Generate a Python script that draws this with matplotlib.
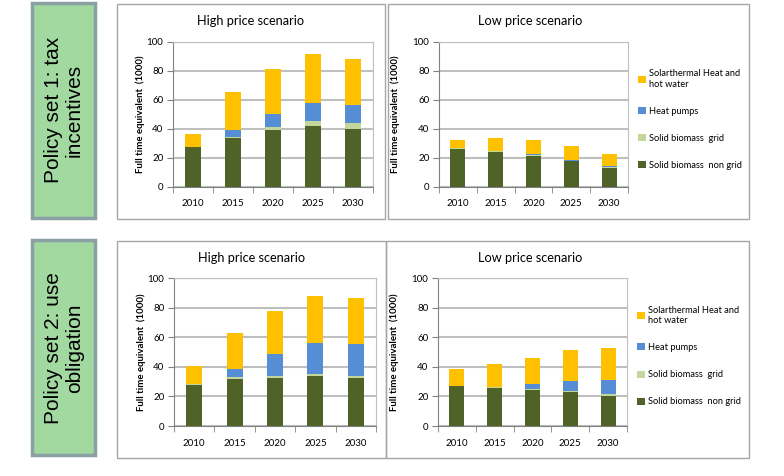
import numpy as np
import matplotlib
matplotlib.use("Agg")
import matplotlib.pyplot as plt
from matplotlib.patches import Rectangle

# data (full time equivalent, thousands)
years = ["2010", "2015", "2020", "2025", "2030"]

p1_high_nongrid = [27.5, 33.5, 39.3, 42.0, 40.3]
p1_high_grid = [0.3, 1.3, 1.8, 3.4, 4.0]
p1_high_hp = [0.0, 4.5, 9.5, 12.5, 12.5]
p1_high_solar = [8.6, 26.5, 30.5, 33.5, 31.8]

p1_low_nongrid = [26.2, 24.2, 21.7, 17.7, 13.4]
p1_low_grid = [0.5, 0.5, 0.6, 0.5, 0.6]
p1_low_hp = [0.0, 0.2, 0.2, 0.2, 0.2]
p1_low_solar = [6.0, 9.1, 9.8, 10.0, 8.7]

p2_high_nongrid = [27.8, 32.0, 32.6, 33.8, 32.6]
p2_high_grid = [0.4, 0.8, 1.2, 1.2, 1.0]
p2_high_hp = [0.0, 5.9, 15.0, 21.2, 21.5]
p2_high_solar = [12.3, 24.0, 28.8, 31.8, 31.5]

p2_low_nongrid = [26.8, 25.6, 24.3, 22.8, 20.6]
p2_low_grid = [0.5, 0.6, 0.6, 0.7, 0.7]
p2_low_hp = [0.0, 0.3, 3.4, 6.8, 9.8]
p2_low_solar = [11.4, 15.1, 17.9, 20.8, 21.8]

series_names = ["Solid biomass  non grid", "Solid biomass  grid", "Heat pumps",
                "Solarthermal Heat and\nhot water"]
colors = ["#4F6228", "#C3D69B", "#558ED5", "#FFC000"]

W, H = 784, 476
fig = plt.figure(figsize=(W / 100, H / 100), dpi=100)
font = "Lato"


def px_rect(x0, y0, x1, y1, **kw):
    # rectangle given in pixel coords of the picture (y down)
    r = Rectangle((x0 / W, 1 - y1 / H), (x1 - x0) / W, (y1 - y0) / H,
                  transform=fig.transFigure, **kw)
    fig.add_artist(r)


def panel(box, stacks, show_legend, lpad):
    x0, y0, x1, y1 = box
    ax = fig.add_axes([x0 / W, 1 - y1 / H, (x1 - x0) / W, (y1 - y0) / H])
    x = np.arange(len(years))
    bottom = np.zeros(len(years))
    handles = []
    for vals, c, name in zip(stacks, colors, series_names):
        b = ax.bar(x, vals, 0.4, bottom=bottom, color=c, label=name,
                   edgecolor="none", zorder=3)
        bottom += np.array(vals)
        handles.append(b)
    ax.set_xlim(-0.5, 4.5)
    ax.set_ylim(0, 100)
    ax.set_yticks([0, 20, 40, 60, 80, 100])
    ax.yaxis.grid(True, color="#BFBFBF", linewidth=1.5, zorder=0)
    ax.set_xticks(x)
    ax.set_xticklabels(years)
    ax.set_xticks(np.arange(-0.5, 5, 1), minor=True)
    ax.tick_params(axis="x", which="major", length=0, pad=9)
    ax.tick_params(axis="x", which="minor", length=4, color="#808080")
    ax.tick_params(axis="y", length=4, color="#808080", pad=3)
    for lab in ax.get_xticklabels() + ax.get_yticklabels():
        lab.set_fontfamily(font)
        lab.set_fontsize(7)
    ax.spines["left"].set_color("#808080")
    ax.spines["bottom"].set_color("#808080")
    ax.spines["top"].set_color("#BFBFBF")
    ax.spines["right"].set_color("#BFBFBF")
    ax.set_ylabel("Full time equivalent  (1000)", fontsize=6.9, fontweight="bold",
                  family=font, labelpad=lpad)
    if show_legend:
        ax.legend(handles[::-1], [h.get_label() for h in handles[::-1]],
                  loc="upper left", bbox_to_anchor=(1.01, 0.87), frameon=False,
                  prop={"family": font, "size": 6.7}, handlelength=0.8,
                  handleheight=0.8, handletextpad=0.4, labelspacing=1.95)
    return ax


# panel frames
px_rect(117, 4, 385, 219, fill=False, ec="#A6A6A6", lw=1)
px_rect(388, 4, 749, 219, fill=False, ec="#A6A6A6", lw=1)
px_rect(117, 241, 386, 458, fill=False, ec="#A6A6A6", lw=1)
px_rect(386, 241, 749, 458, fill=False, ec="#A6A6A6", lw=1)

# green policy boxes
px_rect(32, 3, 95, 218, fc="#A1D9A1", ec="#8AA0A4", lw=2.5)
px_rect(32, 240, 95, 455, fc="#A1D9A1", ec="#8AA0A4", lw=2.5)
fig.text(64 / W, 1 - 110 / H, "Policy set 1: tax\nincentives", rotation=90,
         ha="center", va="center", fontsize=15, family="Liberation Sans",
         linespacing=1.15)
fig.text(64 / W, 1 - 348 / H, "Policy set 2: use\nobligation", rotation=90,
         ha="center", va="center", fontsize=15, family="Liberation Sans",
         linespacing=1.15)

panel((173, 42, 373, 187),
      [p1_high_nongrid, p1_high_grid, p1_high_hp, p1_high_solar], False, 1)
panel((439, 42, 628, 187),
      [p1_low_nongrid, p1_low_grid, p1_low_hp, p1_low_solar], True, 9)
panel((174, 278, 376, 426),
      [p2_high_nongrid, p2_high_grid, p2_high_hp, p2_high_solar], False, 1)
panel((438, 278, 627, 426),
      [p2_low_nongrid, p2_low_grid, p2_low_hp, p2_low_solar], True, 9)

# panel titles
for cx, cy, t in [(251, 21, "High price scenario"), (530, 21, "Low price scenario"),
                  (252, 258, "High price scenario"), (530, 258, "Low price scenario")]:
    fig.text(cx / W, 1 - cy / H, t, ha="center", va="center", fontsize=9.2, family=font)

fig.savefig("out.png", dpi=100)
